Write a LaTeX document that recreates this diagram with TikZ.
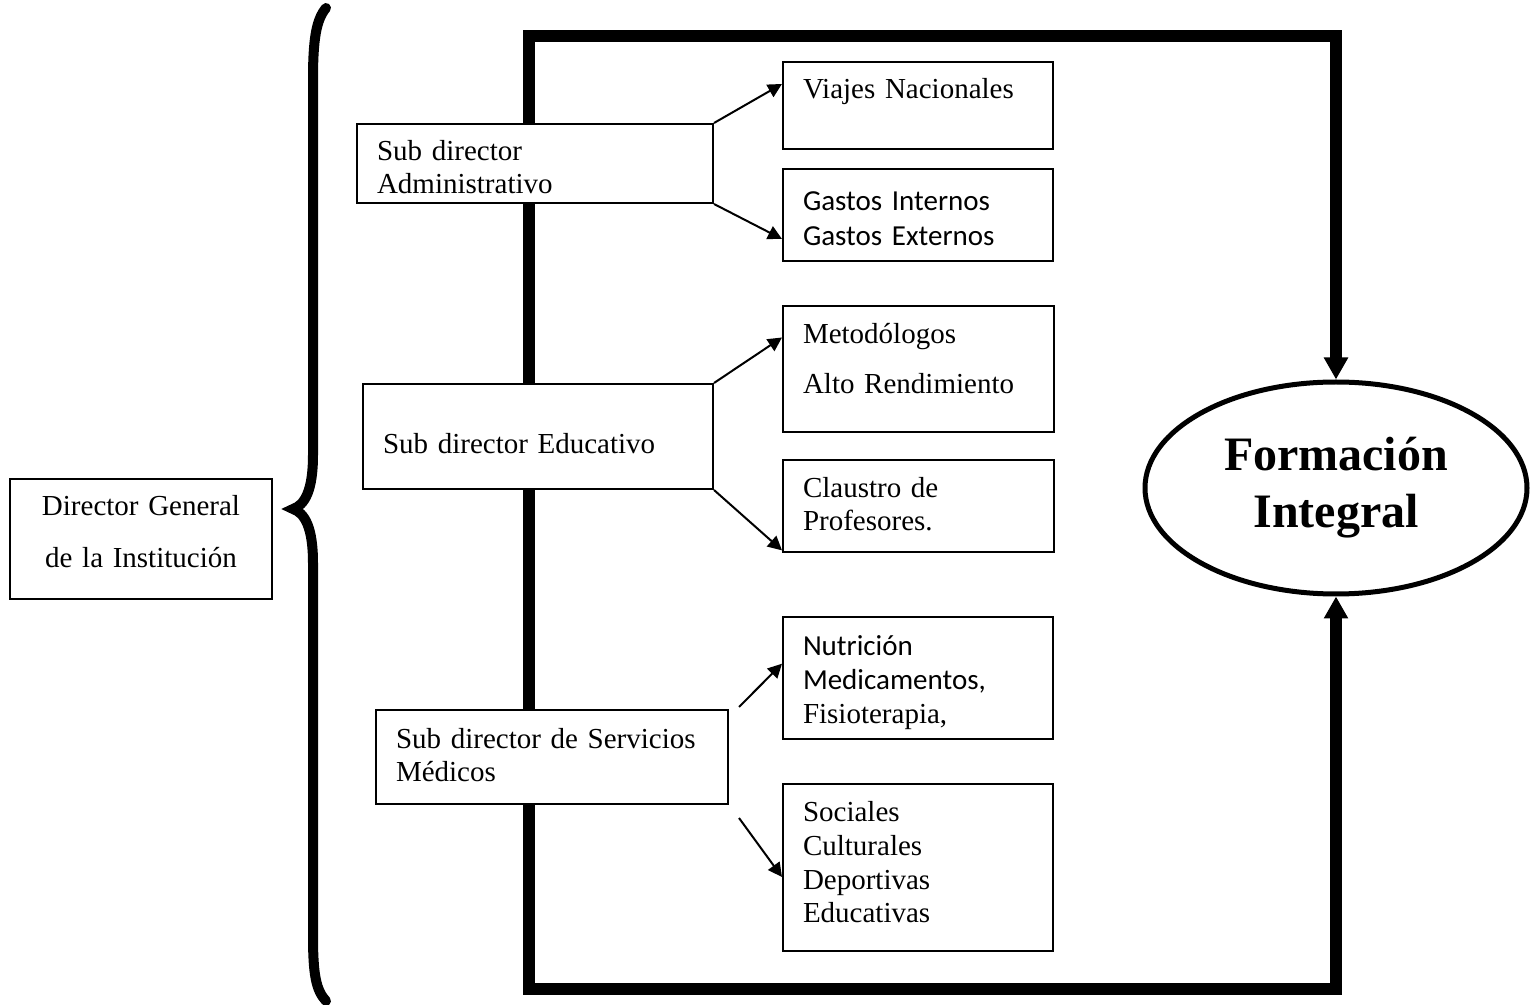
\documentclass[tikz,border=0pt]{standalone}
\usepackage{fontspec}
\setmainfont{Liberation Serif}
\newfontfamily\calibri{Carlito}
\usetikzlibrary{arrows.meta,shapes.geometric}

\begin{document}
\begin{tikzpicture}[x=0.5pt,y=-0.5pt,
        caja/.style={draw,line width=1pt,fill=white,anchor=north west,inner xsep=10pt,inner ysep=0pt,align=left,font=\fontsize{14.5}{17}\selectfont},
        flecha/.style={line width=1pt,-{Triangle[width=7pt,length=7pt]}},
        marco/.style={line width=6pt,line join=miter}]
    \useasboundingbox (0,0) rectangle (1533,1005);
    % llave
    \draw[line width=5pt,line cap=round](326,8) .. controls (316,20) and (313,40) .. (313,80)--(313,455)
        .. controls (313,490) and (305,505) .. (293,509) .. controls (305,513) and (313,528) .. (313,563)
        --(313,935) .. controls (313,975) and (316,990) .. (326,1001);
    \node[caja,align=center,text width=111pt,text height=18.5pt,text depth=41.5pt,font=\fontsize{14.5}{26}\selectfont] (dir) at (9,478) {Director General\\de la Institución};
    % marco y meta
    \node[ellipse,draw,line width=2.5pt,minimum width=191pt,minimum height=106pt,inner sep=0pt,align=center,font=\bfseries\fontsize{24}{28.5}\selectfont] (meta) at (1336,488) {Formación\\Integral};
    \coordinate (arriba) at (529,36);
    \coordinate (abajo) at (529,989);
    \draw[marco,{Triangle[width=11.5pt,length=11pt]}-{Triangle[width=11.5pt,length=11pt]}](meta.north)--(meta.north |- arriba)--(arriba)--(abajo)--(meta.south |- abajo)--(meta.south);
    % subdirectores
    \node[caja,text width=158pt,text height=18.5pt,text depth=21pt,font=\fontsize{14.5}{16.5}\selectfont] (sadm) at (356,123) {Sub director\\Administrativo};
    \node[caja,text width=155pt,text height=35pt,text depth=17.5pt] (sedu) at (362,383) {Sub director Educativo};
    \node[caja,text width=156pt,text height=19pt,text depth=28pt,font=\fontsize{14.5}{16.5}\selectfont] (smed) at (375,709) {Sub director de Servicios\\Médicos};
    % areas
    \node[caja,text width=115pt,text height=18.5pt,text depth=25pt] (viajes) at (782,61) {Viajes Nacionales};
    \node[caja,text width=115pt,text height=21pt,text depth=25pt,font=\calibri\fontsize{14.5}{17.5}\selectfont] (gastos) at (782,168) {Gastos Internos\\Gastos Externos};
    \node[caja,text width=115.5pt,text height=19pt,text depth=44pt,font=\fontsize{14.5}{25}\selectfont] (metod) at (782,305) {Metodólogos\\Alto Rendimiento};
    \node[caja,text width=115.5pt,text height=19pt,text depth=27pt,font=\fontsize{14.5}{16.5}\selectfont] (claustro) at (782,459) {Claustro de\\Profesores.};
    \node[caja,text width=115pt,text height=19.5pt,text depth=41.5pt] (nutri) at (782,616) {{\calibri Nutrición\\Medicamentos,}\\Fisioterapia,};
    \node[caja,text width=115pt,text height=18.5pt,text depth=65pt] (soc) at (782,783) {Sociales\\Culturales\\Deportivas\\Educativas};
    % flechas
    \foreach \a/\b in {sadm.north east/viajes.171,sadm.south east/gastos.190,sedu.north east/metod.167,sedu.south east/claustro.198}{
        \draw[flecha](\a)--(\b);
    }
    \draw[flecha]([xshift=5pt,yshift=1pt]smed.north east)--(nutri.174);
    \draw[flecha]([xshift=5pt,yshift=-6.5pt]smed.south east)--(soc.184);
\end{tikzpicture}
\end{document}
